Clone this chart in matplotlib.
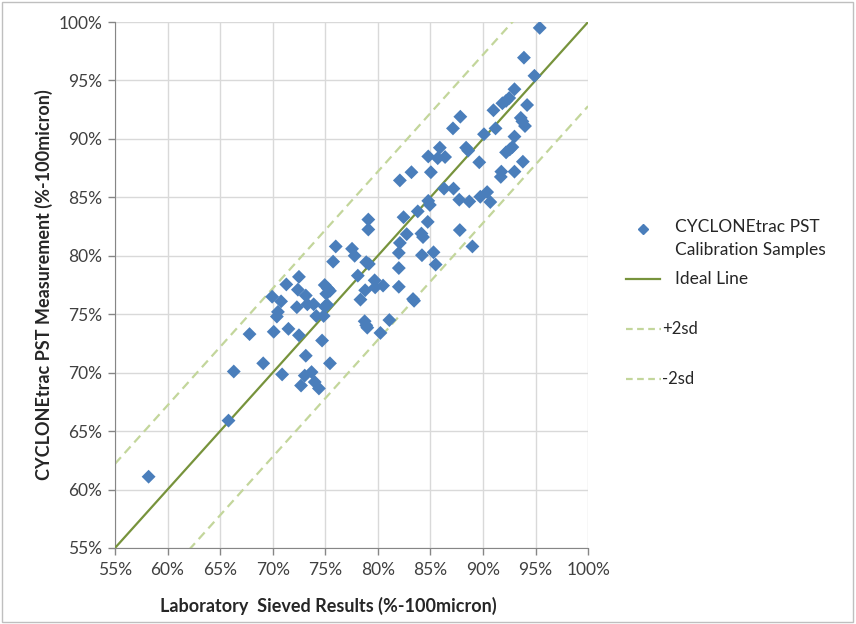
import matplotlib.pyplot as plt
from matplotlib.lines import Line2D
from matplotlib.patches import Rectangle
from matplotlib.ticker import FuncFormatter, MultipleLocator

plt.rcParams['font.family'] = ['Lato', 'DejaVu Sans']

# lab sieved result (%) vs CYCLONEtrac measurement (%)
lab = [58.2, 65.8, 66.3, 67.8, 69.1, 70.1, 69.95, 70.8, 70.5, 70.4,
       70.9, 71.3, 71.5, 72.5, 72.4, 72.3, 72.5, 72.7, 73.15, 73.3,
       73.9, 73.15, 73.05, 73.7, 74.0, 74.4, 74.15, 74.85, 74.7, 74.95,
       75.2, 75.45, 74.95, 75.25, 75.45, 75.1, 75.75, 76.0, 77.55, 77.8,
       78.9, 79.15, 78.1, 79.7, 80.5, 79.75, 78.8, 78.35, 78.75, 78.9,
       79.0, 81.1, 80.25, 79.1, 79.1, 82.0, 82.0, 83.35, 83.45, 82.1,
       82.0, 82.75, 84.15, 84.3, 84.2, 85.3, 85.5, 82.45, 83.8, 84.75,
       82.1, 83.2, 85.05, 84.8, 84.95, 84.8, 85.9, 85.7, 86.4, 86.3,
       87.2, 87.75, 88.7, 89.75, 90.4, 90.7, 87.8, 89.0, 88.4, 88.6,
       89.65, 87.15, 87.85, 90.1, 91.2, 91.0, 92.2, 92.55, 92.8, 93.8,
       91.75, 91.7, 93.0, 93.0, 93.6, 93.75, 94.0, 94.2, 91.85, 92.2,
       92.5, 93.0, 94.9, 93.9, 95.4]
pst = [61.1, 65.9, 70.1, 73.3, 70.8, 73.5, 76.5, 76.1, 75.2, 74.8,
       69.85, 77.55, 73.75, 78.2, 77.1, 75.6, 73.2, 68.9, 76.6, 75.85,
       75.85, 71.45, 69.75, 70.05, 69.2, 68.65, 74.85, 74.85, 72.75, 75.65,
       75.8, 70.8, 77.5, 77.2, 77.0, 76.75, 79.5, 80.8, 80.6, 80.0,
       79.45, 79.3, 78.3, 77.9, 77.45, 77.3, 77.05, 76.25, 74.4, 74.05,
       73.85, 74.5, 73.4, 83.1, 82.25, 78.95, 77.35, 76.3, 76.15, 81.1,
       80.25, 81.85, 81.9, 81.6, 80.05, 80.3, 79.25, 83.3, 83.8, 82.9,
       86.45, 87.15, 87.15, 84.7, 84.35, 88.5, 89.25, 88.35, 88.45, 85.75,
       85.75, 84.8, 84.65, 85.05, 85.45, 84.6, 82.2, 80.8, 89.25, 89.0,
       88.0, 90.9, 91.9, 90.4, 90.9, 92.45, 88.85, 89.1, 89.3, 88.05,
       87.2, 86.75, 87.2, 90.2, 91.8, 91.5, 91.1, 92.9, 93.05, 93.25,
       93.5, 94.25, 95.4, 96.95, 99.5]

line_x = [55, 100]
two_sd = 7.2

blue = '#4a7ebb'
green = '#77933c'
light_green = '#c3d69b'
txt = '#262626'

fig = plt.figure(figsize=(8.56, 6.24), dpi=100)
ax = fig.add_axes([0.1343, 0.1218, 0.5527, 0.8429])

ax.plot(line_x, [v + two_sd for v in line_x], color=light_green, lw=1.6,
        ls=(0, (4, 2.5)), zorder=2)
ax.plot(line_x, [v - two_sd for v in line_x], color=light_green, lw=1.6,
        ls=(0, (4, 2.5)), zorder=2)
ax.plot(line_x, line_x, color=green, lw=1.6, zorder=3)
ax.scatter(lab, pst, marker='D', s=50, color=blue, edgecolors='none', zorder=4)

ax.set_xlim(55, 100)
ax.set_ylim(55, 100)
ax.xaxis.set_major_locator(MultipleLocator(5))
ax.yaxis.set_major_locator(MultipleLocator(5))
pct = FuncFormatter(lambda v, p: '%d%%' % round(v))
ax.xaxis.set_major_formatter(pct)
ax.yaxis.set_major_formatter(pct)
ax.grid(True, color='#d9d9d9', lw=1)
ax.set_axisbelow(True)
for s in ['top', 'right']:
    ax.spines[s].set_visible(False)
for s in ['left', 'bottom']:
    ax.spines[s].set_color('#868686')
ax.tick_params(axis='both', colors='#868686', labelcolor='#404040',
               labelsize=12.5, length=5, width=1)
ax.tick_params(axis='y', pad=4)
ax.tick_params(axis='x', pad=5)

ax.set_xlabel('Laboratory  Sieved Results (%-100micron)', fontsize=13,
              fontweight='bold', color=txt)
ax.set_ylabel('CYCLONEtrac PST Measurement (%-100micron)', fontsize=13,
              fontweight='bold', color=txt)
ax.xaxis.set_label_coords(0.45, -0.093)
ax.yaxis.set_label_coords(-0.13, 0.5)

# legend drawn by hand to get Excel's spacing
def fx(px):
    return px / 856

def fy(py):
    return 1 - py / 624

fig.add_artist(Line2D([fx(643)], [fy(229)], marker='D', markersize=5.5,
                      color=blue, lw=0))
fig.text(fx(675), fy(227), 'CYCLONEtrac PST', fontsize=12.5, va='center',
         color=txt)
fig.text(fx(675), fy(250), 'Calibration Samples', fontsize=12.5, va='center',
         color=txt)
fig.add_artist(Line2D([fx(626), fx(660)], [fy(279), fy(279)], color=green,
                      lw=1.6))
fig.text(fx(675), fy(279), 'Ideal Line', fontsize=12.5, va='center',
         color=txt)
for py, lbl in [(329, '+2sd'), (379, '-2sd')]:
    fig.add_artist(Line2D([fx(626), fx(661)], [fy(py), fy(py)],
                          color=light_green, lw=1.6, ls=(0, (3, 2))))
    fig.text(fx(662), fy(py), lbl, fontsize=12, va='center', color=txt)

# chart border
fig.add_artist(Rectangle((0.002, 0.003), 0.995, 0.994, transform=fig.transFigure,
                         fill=False, edgecolor='#bfbfbf', lw=1))

fig.savefig('out.png', dpi=100)
